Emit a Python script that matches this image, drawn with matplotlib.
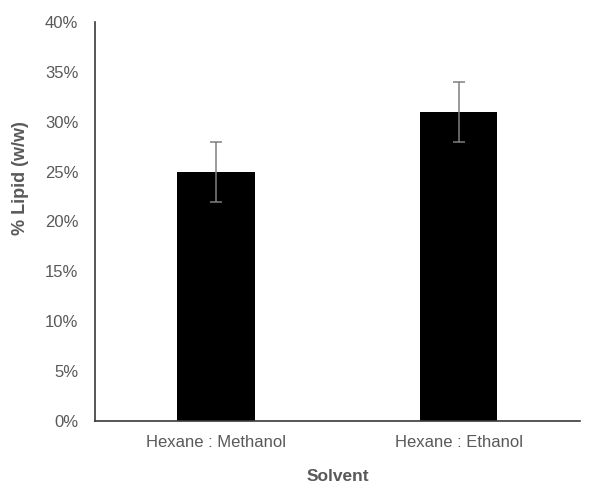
import numpy as np
from matplotlib import pyplot as plt
from matplotlib.ticker import PercentFormatter

solvents = ['Hexane : Methanol', 'Hexane : Ethanol']
lipid = [25, 31]
err = [3, 3]

plt.rcParams['font.family'] = ['Liberation Sans', 'DejaVu Sans']
grey = '#595959'

fig = plt.figure(figsize=(5.93, 4.95), dpi=100)
ax = fig.add_axes([0.160, 0.1495, 0.818, 0.8061])

x = np.arange(len(solvents))
ax.bar(x, lipid, width=0.32, color='black', zorder=2)
ax.errorbar(x, lipid, yerr=err, fmt='none', ecolor='#7f7f7f', elinewidth=1.1,
            capsize=4, capthick=1.1, zorder=3)

ax.set_xlim(-0.5, 1.5)
ax.set_ylim(0, 40)
ax.set_yticks(np.arange(0, 41, 5))
ax.yaxis.set_major_formatter(PercentFormatter(decimals=0))
ax.set_xticks(x)
ax.set_xticklabels(solvents)
ax.tick_params(length=0, labelsize=12, labelcolor=grey)
ax.tick_params(axis='x', pad=10)
ax.tick_params(axis='y', pad=12)

for s in ['top', 'right']:
    ax.spines[s].set_visible(False)
for s in ['left', 'bottom']:
    ax.spines[s].set_color('#3a3a3a')
    ax.spines[s].set_linewidth(1.2)

ax.set_xlabel('Solvent', fontsize=12.5, fontweight='bold', color=grey, labelpad=14)
ax.set_ylabel('% Lipid (w/w)', fontsize=13, fontweight='bold', color=grey)
ax.yaxis.set_label_coords(-0.135, 0.61)

fig.savefig('out.png', dpi=100)
